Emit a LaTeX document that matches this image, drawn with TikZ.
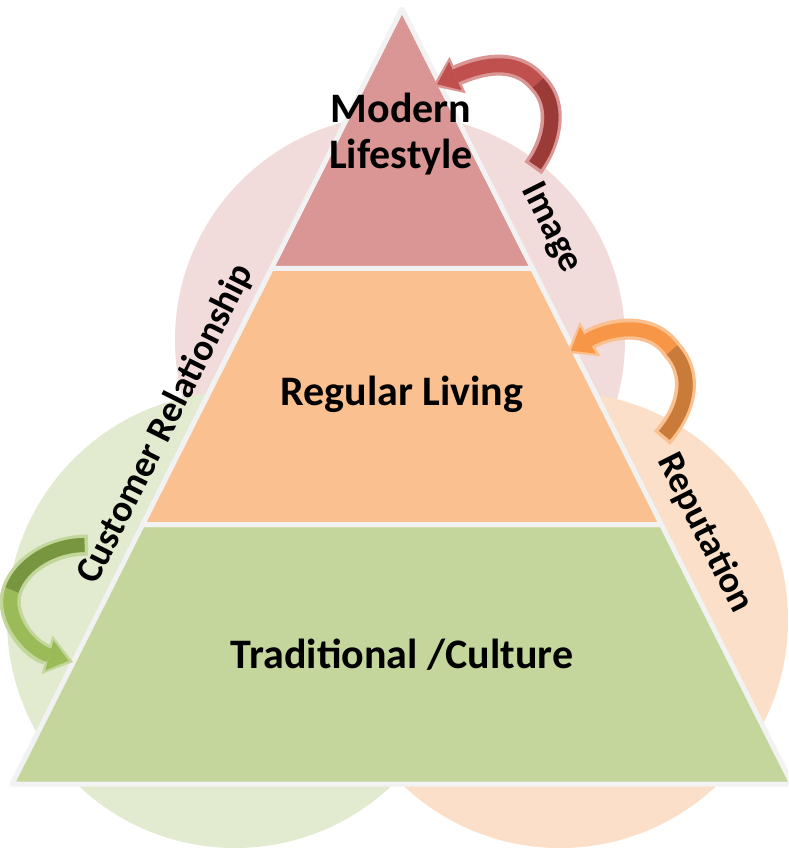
\documentclass[tikz,border=0pt]{standalone}
\usepackage{fontspec}
\setmainfont{Carlito}
\usetikzlibrary{calc,arrows.meta}
\definecolor{pinkc}{HTML}{F2DCDB}
\definecolor{greenc}{HTML}{E2EAD0}
\definecolor{orangec}{HTML}{FBDFC8}
\definecolor{topband}{HTML}{D99694}
\definecolor{midband}{HTML}{FAC090}
\definecolor{botband}{HTML}{C4D69B}
\definecolor{edgegray}{HTML}{F2F2F2}
\definecolor{redout}{HTML}{DA9694}
\definecolor{redfill}{HTML}{C0504D}
\definecolor{reddark}{HTML}{9B3B38}
\definecolor{orout}{HTML}{FAC090}
\definecolor{orfill}{HTML}{F79646}
\definecolor{ordark}{HTML}{C97B3A}
\definecolor{grout}{HTML}{C3D69B}
\definecolor{grfill}{HTML}{9BBB59}
\definecolor{grdark}{HTML}{789640}
\begin{document}
\begin{tikzpicture}[x=1pt,y=-1pt,
  band/.style={draw=edgegray, line width=5pt, line join=round},
  lbl/.style={font=\bfseries\fontsize{42}{46}\selectfont, text=black, align=center, inner sep=0pt, anchor=base},
  side/.style={font=\bfseries\fontsize{37.5}{40}\selectfont, text=black, inner sep=0pt},
  arrout/.style={line width=21pt, -{Triangle[width=40pt,length=27pt,line width=0pt]}},
  arrin/.style={line width=14pt, shorten <=3.5pt, shorten >=4.5pt, -{Triangle[width=31pt,length=20pt,line width=0pt]}},
  arrdark/.style={line width=14pt, shorten <=3.5pt}
]
\useasboundingbox (0,0) rectangle (788,851);
\begin{scope}
\clip (0,0) rectangle (788,851);
% circles
\fill[pinkc] (400,340) circle[radius=225];
\fill[greenc] (235,620) circle[radius=228];
\fill[orangec] (560,620) circle[radius=228];
% pyramid
\coordinate (A) at (402,9);
\coordinate (L) at (12,784);
\coordinate (R) at (792,784);
\coordinate (p1L) at ($(A)!0.3348!(L)$);
\coordinate (p1R) at ($(A)!0.3348!(R)$);
\coordinate (p2L) at ($(A)!0.6652!(L)$);
\coordinate (p2R) at ($(A)!0.6652!(R)$);
\filldraw[band, fill=botband] (p2L) -- (L) -- (R) -- (p2R) -- cycle;
\filldraw[band, fill=midband] (p1L) -- (p2L) -- (p2R) -- (p1R) -- cycle;
\filldraw[band, fill=topband] (A) -- (p1L) -- (p1R) -- cycle;
\end{scope}
% labels
\node[lbl] (modern) at (401,168) {Modern\\Lifestyle};
\node[lbl] (regular) at (402,405) {Regular Living};
\node[lbl] (trad) at (402,668) {Traditional /Culture};
\node[side, rotate=63.4] (cust) at (166,424) {Customer Relationship};
\node[side, rotate=-63.4] (image) at (551,228) {Image};
\node[side, rotate=-63.4] (rep) at (705,533) {Reputation};
% red arrow
\coordinate (rt) at (533,168);
\coordinate (rm) at (538,83);
\coordinate (rh) at (433,86);
\draw[arrout, redout] (rt) .. controls (552,142) and (560,105) .. (rm) .. controls (515,55) and (478,66) .. (rh);
\draw[arrin, redfill] (rt) .. controls (552,142) and (560,105) .. (rm) .. controls (515,55) and (478,66) .. (rh);
\draw[arrdark, reddark] (rt) .. controls (552,142) and (560,105) .. (rm);
% orange arrow
\coordinate (ot) at (662,438);
\coordinate (om) at (672,350);
\coordinate (oh) at (567,353);
\draw[arrout, orout] (ot) .. controls (688,408) and (694,374) .. (om) .. controls (650,318) and (605,330) .. (oh);
\draw[arrin, orfill] (ot) .. controls (688,408) and (694,374) .. (om) .. controls (650,318) and (605,330) .. (oh);
\draw[arrdark, ordark] (ot) .. controls (688,408) and (694,374) .. (om);
% green arrow
\coordinate (gt) at (88,545);
\coordinate (gm) at (12,590);
\coordinate (gh) at (73,662);
\draw[arrout, grout] (gt) .. controls (55,545) and (22,562) .. (gm) .. controls (3,618) and (30,650) .. (gh);
\draw[arrin, grfill] (gt) .. controls (55,545) and (22,562) .. (gm) .. controls (3,618) and (30,650) .. (gh);
\draw[arrdark, grdark] (gt) .. controls (55,545) and (22,562) .. (gm);
\end{tikzpicture}
\end{document}
